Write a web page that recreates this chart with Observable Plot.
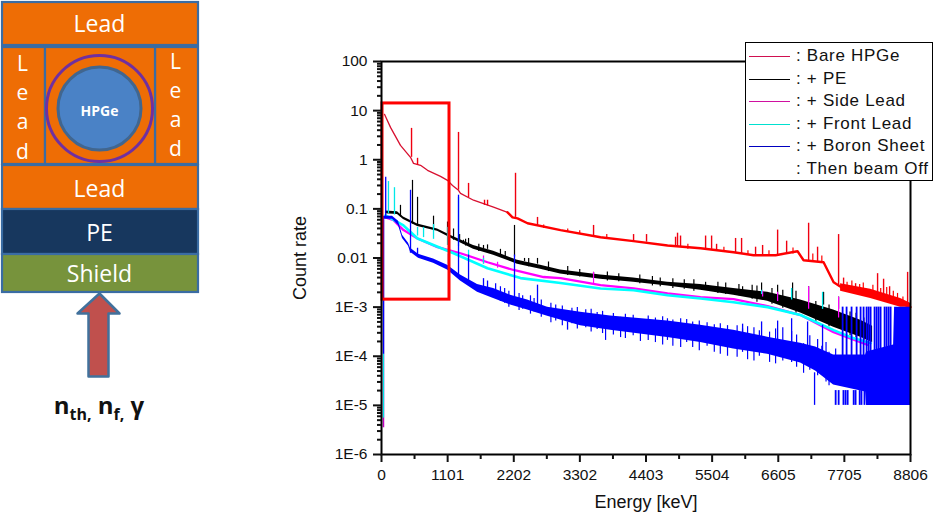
<!DOCTYPE html>
<html><head><meta charset="utf-8">
<script src="https://cdn.jsdelivr.net/npm/d3@7"></script>
<script src="https://cdn.jsdelivr.net/npm/@observablehq/plot@0.6"></script>
<style>
html,body{margin:0;padding:0;background:#fff;width:933px;height:515px;overflow:hidden}
#wrap{position:relative;width:933px;height:515px}
#wrap svg{position:absolute;left:0;top:0;background:transparent}
#legend{position:absolute;left:745px;top:42px;width:186px;height:137px;background:#fff;border:1px solid #000;font:17px "Liberation Sans",sans-serif;letter-spacing:.7px;color:#111}
.row{position:absolute;left:0;height:20px;line-height:20px;white-space:pre}
.key{position:absolute;left:3px;width:41px;top:10px;height:1px}
.lab{position:absolute;left:50px;top:0}
#beam{position:absolute;left:0;top:388px;width:198px;text-align:center;font:bold 24px "Open Sans",sans-serif;color:#111}
#beam sub{font-size:16px;line-height:0}
</style></head><body>
<div id="wrap"></div>
<script>
// Spectrum: energy axis
const xTicks=[0,1101,2202,3302,4403,5504,6605,7705,8806];
const xMinor=[550,1651,2752,3853,4954,6055,7155,8256];
const yTicks=[100,10,1,0.1,0.01,1e-3,1e-4,1e-5,1e-6];
const yLabels=["100","10","1","0.1","0.01","1E-3","1E-4","1E-5","1E-6"];
const yMinor=[1e-6,1e-5,1e-4,1e-3,1e-2,1e-1,1,10].flatMap(d=>[2,3,4,5,6,7,8,9].map(k=>d*k));

// Bare HPGe [E, rate]
const redEarly=[[50,8.4],[150,4.56],[316,1.96],[483,1.12],[533,.845],[650,.77],[766,.61],[982,.46],[1099,.38],[1182,.30],[1282,.239],[1315,.207],[1532,.15],[1865,.108],[2098,.085]];
const redLate=[[2098,.085],[2181,.067],[2264,.064],[2431,.051],[2980,.037],[3646,.0265],[4196,.022],[4762,.018],[5311,.0158],[5861,.0131],[6194,.0114],[6560,.0114],[6926,.0137],[7026,.009],[7359,.0082],[7526,.0032],[7642,.0026],[8092,.00175],[8641,.0012],[8806,.001]];
const redBand=[[7642,.003,.0021],[8142,.0023,.0015],[8641,.0015,.001],[8806,.0012,.001]];
const redPeaks=[[500,4.35,1.12],[600,1.07,.77],[1282,3.6,.24],[1449,.33,.17],[1715,.15,.118],[1765,.15,.115],[2231,.53,.067],[2597,.067,.044],[3530,.046,.028],[4196,.03,.022],[4412,.03,.021],[4895,.0265,.017],[4928,.032,.017],[4978,.028,.017],[5395,.028,.0155],[5495,.028,.015],[5578,.019,.0145],[5894,.025,.0125],[5994,.025,.012],[6227,.0166,.0114],[6344,.018,.0114],[6594,.037,.0115],[6744,.022,.0118],[7110,.051,.0088],[7259,.0166,.0085],[7609,.03,.0026],[7692,.0039,.0026],[7892,.003,.0023],[8258,.0048,.0018],[8358,.0037,.0017],[8458,.0026,.0015],[8758,.0051,.0011]];
const redSmall=[[2700,.047,.04],[3100,.039,.033],[3300,.036,.03],[3750,.03,.024],[5100,.019,.015],[5700,.0165,.013],[6100,.014,.0115],[6450,.014,.011],[6850,.016,.012],[7180,.012,.0082],[7330,.011,.0078],[7750,.0032,.0021],[7830,.0034,.0021],[7960,.0029,.002],[8020,.0031,.0019],[8180,.0028,.0017],[8310,.0024,.0015],[8410,.0025,.0015],[8520,.0021,.0013],[8590,.0019,.0012],[8680,.0016,.0011]];

// + PE [E, upper, lower]
const blackBand=[[66,.09,.08],[266,.087,.077],[366,.068,.061],[600,.049,.044],[932,.039,.035],[1199,.027,.0238],[1532,.018,.0151],[1865,.0137,.0114],[2264,.009,.0075],[2647,.0071,.0059],[2980,.0057,.0047],[3646,.0045,.0037],[4196,.0039,.0032],[4762,.0032,.0027],[5311,.0029,.0022],[5861,.0024,.00175],[6427,.002,.00132],[6976,.00139,.00076],[7526,.00087,.00039],[7975,.00054,.000245],[8175,.00041,.00019]];
const blackPeaks=[[316,.118,.069],[516,.38,.049],[600,.172,.046],[866,.071,.037],[1099,.054,.029],[1199,.039,.023],[1365,.023,.019],[1449,.025,.018],[1698,.018,.0155],[1765,.0185,.015],[2214,.046,.0105],[2381,.0098,.0085],[2597,.0098,.0075],[3530,.0051,.0042],[5395,.0032,.0024],[6011,.0026,.002],[6327,.0031,.0018],[6594,.0028,.0017],[6843,.0031,.0015],[7110,.0026,.0013],[7359,.002,.0011],[7609,.0016,.0009]];
const blackNoise=[[1300,.03,.021],[1400,.024,.0175],[1620,.019,.0135],[1980,.015,.0105],[2060,.0135,.0098],[2450,.0098,.0066],[2780,.0083,.0053],[3100,.0067,.0044],[3300,.0058,.0041],[3760,.0052,.0034],[3950,.0048,.0033],[4300,.0045,.003],[4510,.0042,.0027],[4640,.0039,.0026],[4850,.0038,.0024],[5040,.0036,.0023],[5200,.0036,.0021],[5600,.0032,.0019],[5730,.0031,.0018],[5950,.0029,.0017],[6170,.0028,.00145],[6250,.0027,.00125],[6500,.0024,.00115],[6680,.0022,.00095],[6900,.0021,.00075],[7230,.0013,.00048],[7450,.0011,.0004],[7800,.0008,.00026],[7900,.00075,.00024],[8030,.0006,.00019]];

// + Side Lead [E, rate]
const magentaLine=[[66,.067],[200,.059],[366,.037],[600,.025],[932,.0166],[1315,.0125],[1765,.0082],[2198,.0057],[2697,.0041],[2980,.0039],[3646,.0028],[4196,.0024],[4762,.0019],[5311,.0016],[5861,.00145],[6427,.00105],[6976,.00069],[7526,.00031],[8092,.00017]];
const magentaTail=[[33,.06,3.5e-6]];
const magentaPeaks=[[1698,.011,.0075],[1932,.0082,.0062],[3530,.0051,.0029],[6344,.0021,.0016],[6594,.002,.0013],[7110,.0026,.0009],[7609,.0016,.0006]];

// + Front Lead [E, rate]
const cyanLine=[[66,.074],[366,.046],[600,.025],[1199,.0125],[1765,.0062],[2314,.0039],[2980,.0031],[3646,.0024],[4196,.0022],[4762,.00175],[5311,.0015],[5861,.00126],[6427,.001],[6976,.00069],[7526,.00034],[7809,.000245],[8142,.000185]];
const cyanPeaks=[[33,.06,5.5e-6],[116,.36,.08],[216,.27,.075],[600,.042,.028],[700,.042,.026],[866,.048,.024],[1099,.042,.018],[1282,.17,.017],[1449,.0144,.011],[1698,.0098,.0075],[6327,.0022,.0018],[6827,.0024,.0014],[7342,.002,.0009]];

// + Boron Sheet [E, upper, lower]
const blueBand=[[33,.0707,.0615],[183,.0707,.0615],[283,.056,.046],[350,.029,.025],[450,.02,.0174],[483,.0158,.0131],[616,.0119,.0099],[866,.0095,.0078],[1099,.0071,.0057],[1315,.0045,.0034],[1598,.0029,.002],[1865,.0024,.0015],[2148,.00175,.0011],[2431,.00139,.00087],[2764,.001,.00065],[3313,.00079,.00042],[3813,.00066,.00034],[4762,.00052,.00024],[5311,.00043,.00019],[5861,.00034,.00014],[6427,.000245,.00011],[6976,.000185,.000073],[7226,.000154,.00005],[7526,.000106,.000026],[8059,.000106,.0000187],[8075,.000122,.00001],[8525,.00017,.00001],[8541,.001,.00001],[8806,.001,.00001]];
const bluePeaks=[[33,.07,1.1e-4],[70,.44,.07],[483,.239,.0125],[600,.0158,.0115],[1115,.012,.0075],[1282,.19,.0045],[1449,.0115,.0028],[1698,.0038,.002],[1765,.0034,.0019],[2214,.0115,.0012],[2597,.0028,.00087],[3097,.0005,.00034],[6011,.00045,.00025],[6327,.0005,.00022],[6594,.00052,.0002],[6827,.00058,.00018],[7093,.0005,.00015],[7342,.00043,.00008],[7209,.000046,.00001]];
const blueNoise=[[1900,.003,.0015],[1980,.0026,.0013],[2050,.0024,.0012],[2120,.0021,.001],[2290,.0019,.00085],[2350,.0017,.0009],[2480,.0017,.00072],[2540,.0015,.0008],[2660,.0014,.00062],[2820,.0012,.00048],[2900,.0011,.00052],[3010,.00105,.00042],[3170,.00095,.00046],[3260,.00098,.00036],[3400,.00088,.00038],[3490,.0009,.00031],[3590,.00078,.00035],[3680,.00082,.00029],[3730,.00058,.00021],[3860,.00074,.00027],[3980,.00062,.00024],[4060,.00072,.00023],[4190,.00068,.00026],[4310,.00056,.0002],[4440,.00066,.00021],[4560,.0006,.00019],[4680,.00064,.00017],[4760,.00058,.00021],[4850,.00055,.00016],[4980,.00058,.00015],[5080,.00056,.00019],[5180,.0005,.00015],[5290,.00052,.00013],[5420,.00048,.00016],[5540,.00044,.00012],[5640,.00046,.00011],[5760,.00042,.0001],[5920,.00042,.000095],[6010,.00036,.00012],[6094,.0004,.000085],[6200,.00038,.00008],[6290,.00033,.0001],[6460,.00031,.000075],[6560,.00036,.00007],[6680,.00038,.00008],[6827,.00032,.000075],[6910,.00027,.00006],[7026,.00018,.000045],[7130,.00026,.000052],[7260,.00022,.00004],[7330,.00016,.00006],[7400,.00019,.00003],[7450,.00012,.000025],[7560,.00014,.000028]];
const blueComb=[7676,7742,7825,7909,7975,8025,8075,8109,8142,8208,8242,8275,8308,8375,8408,8442,8475];
const blueTail=[7560,7610,7690,7725,7760,7860,7892,7960,7990,8040];

// Highlight box [E from, E to, rate low, rate high]
const boxE=[17,1132]; const boxRate=[.00142,14];

const seg=(data,stroke,w)=>Plot.ruleX(data,{x:d=>d[0],y1:d=>d[1],y2:d=>d[2],stroke,strokeWidth:w});
const band=(data,fill)=>Plot.areaY(data,{x:d=>d[0],y1:d=>d[1],y2:d=>d[2],fill});

const chart=Plot.plot({
  width:933,height:515,marginLeft:381,marginRight:23,marginTop:61,marginBottom:61,
  style:{fontFamily:'"Liberation Sans",sans-serif',color:"#111",background:"transparent",overflow:"visible"},
  x:{domain:[0,8806]},
  y:{type:"log",domain:[1e-6,100]},
  marks:[
    seg(magentaTail,"#c000c0",1.5),
    Plot.line(redEarly,{x:d=>d[0],y:d=>d[1],stroke:"#d81030",strokeWidth:1.3}),
    Plot.line(redLate,{x:d=>d[0],y:d=>d[1],stroke:"#ff0000",strokeWidth:2.4}),
    band(redBand,"#ff0000"),
    seg(redPeaks,"#f00010",1.4),
    seg(redSmall,"#ff0000",1.2),
    band(blackBand,"#000"),
    seg(blackNoise,"#000",1.2),
    seg(blackPeaks,"#000",1.2),
    Plot.line(magentaLine,{x:d=>d[0],y:d=>d[1],stroke:"#ff00ff",strokeWidth:2.3}),
    seg(magentaPeaks,"#ff00ff",1.2),
    Plot.line(cyanLine,{x:d=>d[0],y:d=>d[1],stroke:"#00ffff",strokeWidth:2.6}),
    seg(cyanPeaks,"#00e8e8",1.3),
    band(blueBand,"#0000ff"),
    seg(blueNoise,"#0000ff",1.2),
    seg(bluePeaks,"#0000ff",1.3),
    Plot.ruleX(blueComb,{y1:8e-5,y2:1e-3,stroke:"#0000ff",strokeWidth:1.8}),
    Plot.ruleX(blueTail,{y1:1e-5,y2:2e-5,stroke:"#0000ff",strokeWidth:1.8}),
    Plot.rect([0],{x1:()=>boxE[0],x2:()=>boxE[1],y1:()=>boxRate[0],y2:()=>boxRate[1],fill:"none",stroke:"#ff0000",strokeWidth:3}),
    Plot.frame({stroke:"#000",strokeWidth:2}),
    Plot.axisX({ticks:xTicks,tickSize:8,strokeWidth:2,tickPadding:6,fontSize:15.5,tickFormat:d=>String(d),label:"Energy [keV]",labelAnchor:"center",labelArrow:"none",labelOffset:53}),
    Plot.axisX({ticks:xMinor,tickSize:5,strokeWidth:2,tickFormat:()=>"",label:null}),
    Plot.axisY({ticks:yTicks,tickSize:8,strokeWidth:2,tickPadding:6,fontSize:15.5,tickFormat:d=>yLabels[yTicks.indexOf(d)],label:"Count rate",labelAnchor:"center",labelArrow:"none",labelOffset:88}),
    Plot.axisY({ticks:yMinor,tickSize:4,strokeWidth:2,tickFormat:()=>"",label:null})
  ]
});
chart.querySelectorAll('[aria-label="x-axis label"],[aria-label="y-axis label"]').forEach(g=>{g.setAttribute("font-size",18);g.querySelectorAll("text").forEach(t=>t.setAttribute("font-size",18));});
document.getElementById("wrap").appendChild(chart);

// Shielding diagram, in drawing units
const blockNames=["top","sideL","sideR","mid","bottom","pe","shield"];
const blockX1=[2,2,155,45,2,2,2];
const blockX2=[198,45,198,155,198,198,198];
const blockY1=[2,47,47,47,165,209,254];
const blockY2=[45,164,164,164,209,254,292];
const blockFill=["#ee6d05","#ee6d05","#ee6d05","#ee6d05","#ee6d05","#17375e","#77933c"];
const blockRows=blockNames.map((n,i)=>({n,x1:blockX1[i],x2:blockX2[i],y1:blockY1[i],y2:blockY2[i],fill:blockFill[i]}));
const labels=[{t:"Lead",x:99,y:24,s:23},{t:"Lead",x:99,y:189,s:23},{t:"PE",x:99,y:233,s:23},{t:"Shield",x:99,y:274,s:23},{t:"HPGe",x:99,y:111,s:14},
 {t:"L",x:22,y:64,s:21},{t:"e",x:22,y:93,s:21},{t:"a",x:22,y:122,s:21},{t:"d",x:22,y:152,s:21},
 {t:"L",x:175,y:62,s:21},{t:"e",x:175,y:91,s:21},{t:"a",x:175,y:120,s:21},{t:"d",x:175,y:149,s:21}];
const arrowX=[99,119,108,108,88,88,77,99];
const arrowY=[293,313,313,376,376,313,313,293];
const arrow=arrowX.map((x,i)=>({x,y:arrowY[i]}));
const diagram=Plot.plot({
  width:210,height:430,margin:0,
  x:{domain:[0,210],range:[0,210],axis:null},y:{domain:[0,430],range:[0,430],axis:null},
  style:{fontFamily:'"Open Sans",sans-serif',background:"transparent"},
  marks:[
    Plot.rect(blockRows,{x1:"x1",x2:"x2",y1:"y1",y2:"y2",fill:"fill",stroke:"#3a6ca3",strokeWidth:2.2}),
    Plot.dot([{x:99,y:108}],{x:"x",y:"y",r:53,fill:"none",stroke:"#7030a0",strokeWidth:3}),
    Plot.dot([{x:99,y:108}],{x:"x",y:"y",r:41.5,fill:"#4a82c6",stroke:"#41668f",strokeWidth:3}),
    Plot.line(arrow,{x:"x",y:"y",fill:"#c0504d",stroke:"#41719c",strokeWidth:2.5}),
    Plot.text(labels.filter(d=>d.s==23),{x:"x",y:"y",text:"t",fill:"#fff",fontSize:23}),
    Plot.text(labels.filter(d=>d.s==21),{x:"x",y:"y",text:"t",fill:"#fff",fontSize:21}),
    Plot.text(labels.filter(d=>d.s==14),{x:"x",y:"y",text:"t",fill:"#fff",fontSize:14,fontWeight:"bold"})
  ]
});
document.getElementById("wrap").appendChild(diagram);

// Legend
const legendNames=[": Bare HPGe",": + PE",": + Side Lead",": + Front Lead",": + Boron Sheet",": Then beam Off"];
const legendColors=["#d01050","#000000","#d010a0","#00e0d0","#0000c0",null];
const legend=document.createElement("div");legend.id="legend";
legendNames.forEach((n,i)=>{
  const r=document.createElement("div");r.className="row";r.style.top=(3+i*22.6)+"px";
  if(legendColors[i]){const k=document.createElement("div");k.className="key";k.style.background=legendColors[i];r.appendChild(k);}
  const l=document.createElement("div");l.className="lab";l.textContent=n;r.appendChild(l);
  legend.appendChild(r);
});
document.getElementById("wrap").appendChild(legend);
const beam=document.createElement("div");beam.id="beam";beam.innerHTML="n<sub>th,</sub> n<sub>f,</sub> γ";
document.getElementById("wrap").appendChild(beam);
</script>
</body></html>
